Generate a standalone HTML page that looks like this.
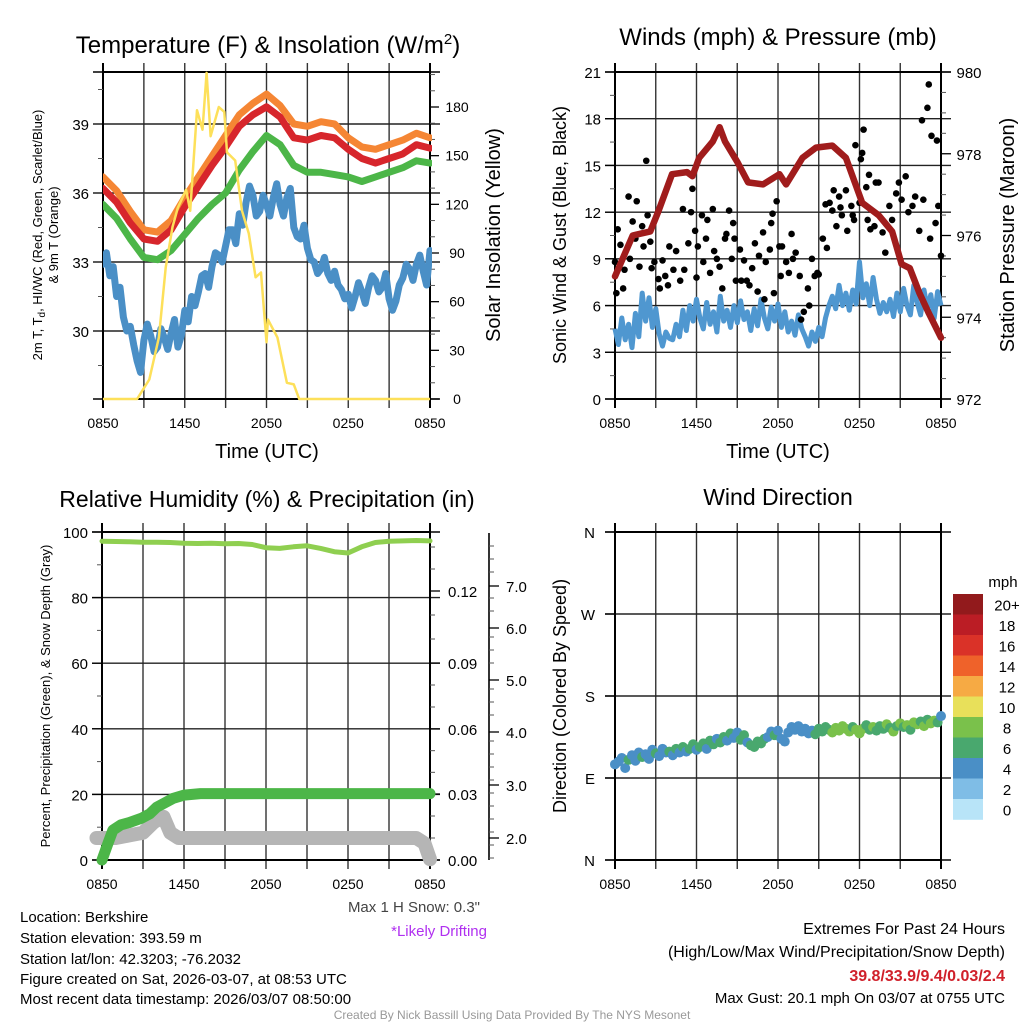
<!DOCTYPE html>
<html><head><meta charset="utf-8"><style>
html,body{margin:0;padding:0;background:#fff;}
svg{display:block;font-family:"Liberation Sans",Arial,sans-serif;}
</style></head><body>
<svg id="c" width="1024" height="1024" viewBox="0 0 1024 1024">
<rect width="1024" height="1024" fill="#fff"/>
<g id="p1"></g>
<g id="p2"></g>
<g id="p3"></g>
<g id="p4"></g>
<text x="268" y="53" font-size="24" text-anchor="middle">Temperature (F) &amp; Insolation (W/m<tspan dy="-9" font-size="15">2</tspan><tspan dy="9">)</tspan></text>
<text x="778" y="45" font-size="24" text-anchor="middle">Winds (mph) &amp; Pressure (mb)</text>
<text x="267" y="507" font-size="23" text-anchor="middle">Relative Humidity (%) &amp; Precipitation (in)</text>
<text x="778" y="505" font-size="23" text-anchor="middle">Wind Direction</text>
<text x="267" y="458" font-size="20" text-anchor="middle">Time (UTC)</text>
<text x="778" y="458" font-size="20" text-anchor="middle">Time (UTC)</text>
<text transform="translate(42,235) rotate(-90)" font-size="13" text-anchor="middle">2m T, T<tspan dy="3" font-size="10">d</tspan><tspan dy="-3">, HI/WC (Red, Green, Scarlet/Blue)</tspan></text>
<text transform="translate(58,235) rotate(-90)" font-size="13" text-anchor="middle">&amp; 9m T (Orange)</text>
<text transform="translate(500,235) rotate(-90)" font-size="20" text-anchor="middle">Solar Insolation (Yellow)</text>
<text transform="translate(566,235) rotate(-90)" font-size="18" text-anchor="middle">Sonic Wind &amp; Gust (Blue, Black)</text>
<text transform="translate(1014,235) rotate(-90)" font-size="20" text-anchor="middle">Station Pressure (Maroon)</text>
<text transform="translate(50,696) rotate(-90)" font-size="13" text-anchor="middle">Percent, Precipitation (Green), &amp; Snow Depth (Gray)</text>
<text transform="translate(566,696) rotate(-90)" font-size="18" text-anchor="middle">Direction (Colored By Speed)</text>
<text x="1003" y="587" font-size="15" text-anchor="middle">mph</text>
<text x="480" y="912" font-size="15" text-anchor="end" fill="#444">Max 1 H Snow: 0.3"</text>
<text x="487" y="936" font-size="15" text-anchor="end" fill="#b030f0">*Likely Drifting</text>
<g font-size="15">
<text x="20" y="922">Location: Berkshire</text>
<text x="20" y="943">Station elevation: 393.59 m</text>
<text x="20" y="964">Station lat/lon: 42.3203; -76.2032</text>
<text x="20" y="984">Figure created on Sat, 2026-03-07, at 08:53 UTC</text>
<text x="20" y="1004">Most recent data timestamp: 2026/03/07 08:50:00</text>
</g>
<g font-size="16" text-anchor="end">
<text x="1005" y="934">Extremes For Past 24 Hours</text>
<text x="1005" y="957">(High/Low/Max Wind/Precipitation/Snow Depth)</text>
<text x="1005" y="981" fill="#d0202a" font-weight="bold">39.8/33.9/9.4/0.03/2.4</text>
<text x="1005" y="1003" font-size="15">Max Gust: 20.1 mph On 03/07 at 0755 UTC</text>
</g>
<text x="512" y="1019" font-size="12" text-anchor="middle" fill="#999">Created By Nick Bassill Using Data Provided By The NYS Mesonet</text>
</svg>
<script>
// ---------- data ----------
const timeLabels = ["0850","1450","2050","0250","0850"];
// Panel 1 (hourly, 0..24 h)
const tempRed = [36.2,35.6,34.7,34.0,33.9,34.4,35.4,36.3,37.2,38.0,38.9,39.4,39.75,39.3,38.4,38.3,38.5,38.4,37.9,37.5,37.3,37.5,37.7,38.1,37.95];
const temp9mOrange = [36.7,36.1,35.2,34.4,34.3,34.8,35.8,36.7,37.6,38.5,39.4,39.9,40.3,39.8,39.0,38.9,39.1,39.0,38.4,38.0,37.9,38.1,38.3,38.6,38.4];
const hiwcGreen = [35.5,34.9,34.0,33.2,33.1,33.5,34.2,34.9,35.5,36.0,37.0,37.8,38.5,38.1,37.2,36.9,36.9,36.8,36.7,36.5,36.7,36.9,37.1,37.4,37.3];
// quarter-hourly
const dewBlue = [32.9,33.4,32.4,32.8,31.5,31.9,30.6,30.0,30.2,29.4,28.7,28.2,29.6,30.3,29.8,29.1,29.3,30.1,29.7,29.2,29.9,30.5,29.3,29.8,30.9,30.4,31.5,31.1,31.7,32.4,32.5,31.9,32.8,33.4,33.3,33.0,33.7,34.4,34.4,33.8,35.1,34.6,35.6,36.3,35.9,35.0,35.2,35.9,35.5,35.0,35.8,36.4,35.5,35.0,35.8,36.2,34.5,34.1,34.0,34.6,33.6,33.1,33.0,32.5,32.7,33.2,32.5,32.2,32.6,32.0,31.8,31.4,31.6,31.0,31.5,32.1,31.7,31.2,31.9,32.4,32.2,31.7,31.9,32.5,31.4,30.9,31.3,32.0,32.3,32.9,32.7,32.2,32.9,33.3,32.6,32.0,33.5];
const insolHours = [0,2.5,3.4,4.1,4.6,5.1,5.5,6.1,6.4,6.9,7.3,7.6,7.9,8.5,8.9,9.1,9.7,10.2,10.7,11.2,11.6,12.0,12.1,12.8,13.5,14.0,14.4,24];
const insolValues = [0,0,12,38,81,106,118,129,116,178,166,201,162,180,177,152,147,116,102,75,78,35,49,38,10,9,0,0];
const tempTicks = [30,33,36,39];
const insolTicks = [0,30,60,90,120,150,180];
// Panel 2 (wind quarter-hourly)
const windBlue = [4.5,3.5,5.2,3.8,4.8,3.3,5.5,4.0,6.8,5.0,6.5,4.6,5.8,4.2,3.4,4.3,3.9,3.8,4.8,4.0,5.7,4.4,6.0,5.0,6.4,5.2,4.5,6.2,4.8,5.6,4.3,6.6,5.0,5.7,4.6,6.0,4.9,6.3,5.1,5.6,4.4,5.8,4.7,6.4,5.2,4.5,5.9,5.0,6.1,4.6,5.6,4.3,5.0,4.1,5.4,4.5,4.0,3.4,4.3,3.7,4.6,4.0,5.2,6.0,6.6,5.8,7.3,6.0,6.8,5.7,7.0,6.1,8.8,6.5,7.4,6.0,7.8,6.4,5.5,6.2,5.6,6.4,5.3,6.8,5.6,7.1,6.0,5.4,7.3,6.2,5.4,7.0,5.8,6.7,5.2,6.9,6.0];
const gustHours = [0.0,0.1,0.2,0.4,0.6,0.7,1.0,1.1,1.3,1.5,1.6,1.8,2.0,2.1,2.3,2.4,2.6,2.7,2.9,3.2,3.3,3.5,3.7,3.9,4.0,4.3,4.5,4.8,5.0,5.1,5.4,5.6,5.7,5.9,6.0,6.1,6.4,6.5,6.7,6.8,7.0,7.2,7.3,7.5,7.7,7.9,8.1,8.2,8.4,8.6,8.7,8.8,8.9,9.2,9.3,9.5,9.7,9.9,10.1,10.3,10.5,10.6,10.9,11.0,11.1,11.4,11.5,11.6,11.7,11.9,12.1,12.2,12.3,12.6,12.8,13.0,13.1,13.3,13.6,13.7,13.9,14.2,14.3,14.5,14.7,14.9,15.0,15.3,15.5,15.6,15.8,16.0,16.1,16.3,16.5,16.6,16.7,17.0,17.1,17.4,17.5,17.6,17.7,18.0,18.1,18.2,18.3,18.5,18.6,18.7,18.8,19.1,19.2,19.4,19.7,19.9,20.2,20.4,20.7,20.9,21.1,21.4,21.6,21.9,22.1,22.4,22.6,22.7,23.0,23.1,23.2,23.3,23.6,23.7,23.8,24.0];
const gustValues = [8.8,6.8,10.9,9.9,7.1,8.3,13.0,9.0,11.4,10.3,12.7,8.5,11.1,9.8,15.3,11.8,10.1,8.4,8.8,7.7,7.1,8.9,7.9,7.3,9.8,8.3,9.5,7.6,12.2,8.3,10.0,12.0,13.5,10.8,7.8,9.8,11.8,8.8,10.3,11.5,8.1,12.2,9.5,9.0,8.5,7.1,10.3,10.6,12.1,9.0,11.3,10.3,7.6,9.6,7.6,8.9,7.6,7.3,8.4,10.0,6.9,9.2,10.7,6.4,8.8,9.6,11.3,11.9,6.8,12.7,9.8,7.9,9.8,8.8,8.1,10.6,9.0,9.4,7.9,5.1,5.6,7.1,6.0,9.0,7.9,8.1,8.0,10.3,12.5,9.7,12.6,12.1,13.4,11.1,13.0,12.3,11.8,13.4,10.8,12.4,11.8,11.5,16.3,12.6,15.4,15.8,17.3,13.6,11.5,14.4,10.9,11.1,13.9,13.9,10.7,9.4,12.4,11.5,13.2,13.9,12.8,14.3,12.0,12.4,13.0,10.8,17.9,12.8,18.7,20.2,10.3,16.9,11.3,16.6,12.4,9.2];
const pressHours = [0,1.3,2.6,3.2,4.2,5.3,5.7,6.2,7.2,7.7,8.1,9.0,9.8,10.9,12.1,12.6,13.8,14.8,16.0,17.0,18.2,19.4,20.4,21.1,21.7,22.4,23.1,24.0];
const pressValues = [975.0,976.0,976.1,976.6,977.5,977.55,977.45,977.9,978.3,978.65,978.3,977.8,977.3,977.25,977.5,977.25,977.9,978.15,978.2,977.9,976.8,976.5,976.1,975.3,975.2,974.6,974.1,973.5];
const windTicks = [0,3,6,9,12,15,18,21];
const pressTicks = [972,974,976,978,980];
// Panel 3
const rhValues = [97.2,97.1,97.0,96.9,96.9,96.8,96.6,96.5,96.6,96.4,96.5,96.2,95.2,95.0,95.5,95.8,95.0,94.0,93.6,95.5,96.8,97.2,97.3,97.4,97.3];
const precipHours = [0,0.4,0.8,1.4,2.0,2.9,3.5,4.0,4.6,5.2,6.0,7.2,24];
const precipValues = [0,0.007,0.0136,0.016,0.017,0.019,0.021,0.024,0.026,0.028,0.0295,0.0302,0.0302];
const snowHours = [-0.4,0,1,2,3,3.8,4.5,5.0,5.6,6.5,8,12,16,20,23,23.6,24];
const snowValues = [2.0,2.0,2.0,2.05,2.1,2.3,2.4,2.1,2.0,2.0,2.0,2.0,2.0,2.0,2.0,1.9,1.6];
const rhTicks = [0,20,40,60,80,100];
const precipTicks = ["0.00","0.03","0.06","0.09","0.12"];
const snowTicks = ["2.0","3.0","4.0","5.0","6.0","7.0"];
// Panel 4 (every 0.25 h)
const dirValues = [105,108,112,101,110,115,109,118,113,116,111,121,117,114,122,118,119,115,122,118,124,119,122,127,121,124,128,122,131,127,133,129,135,131,139,134,140,132,137,129,126,124,130,128,133,135,141,137,142,133,130,140,146,143,147,141,144,139,142,138,144,141,146,143,140,145,142,147,144,141,146,143,139,144,148,143,146,142,147,144,149,145,141,147,150,146,148,143,151,149,152,147,154,150,153,151,158];
const speedValues = [4.5,4.2,5.0,4.8,6.5,4.4,5.1,4.6,6.3,4.7,5.2,4.3,6.4,4.9,5.3,4.5,6.2,4.8,6.5,5.0,6.7,4.6,6.3,6.6,5.2,6.4,6.8,4.7,6.5,6.9,5.1,6.6,6.3,4.9,6.7,5.2,4.8,6.5,6.4,5.3,6.8,6.6,6.9,6.5,6.4,5.0,4.8,6.7,5.4,4.6,5.1,4.7,4.9,5.2,4.8,5.0,4.6,4.9,5.3,6.5,6.7,6.6,6.9,7.5,8.3,8.4,8.6,8.2,8.7,8.5,6.8,8.3,8.6,8.1,6.7,6.9,8.2,6.6,6.8,6.5,8.3,6.7,8.4,6.6,8.2,6.9,8.5,6.6,8.3,8.2,6.8,8.6,6.7,8.4,8.1,6.9,4.8];
const dirTicks = ["N","E","S","W","N"];
const cbLabels = ["20+","18","16","14","12","10","8","6","4","2","0"];
const cbColors = ["#921a1c","#bb1d25","#da3228","#ef622a","#f6aa44","#e8e05a","#7ac14b","#49a86e","#4a8fc6","#7fbde6","#b8e4f8"];

// ---------- helpers ----------
const NS="http://www.w3.org/2000/svg";
function mk(parent,tag,attrs){const e=document.createElementNS(NS,tag);for(const k in attrs)e.setAttribute(k,attrs[k]);parent.appendChild(e);return e;}
function txt(parent,x,y,s,size,anchor){const t=mk(parent,"text",{x:x,y:y,"font-size":size,"text-anchor":anchor||"middle"});t.textContent=s;return t;}
function lin(d0,d1,r0,r1){return v=>r0+(v-d0)*(r1-r0)/(d1-d0);}
function pathFrom(xs,ys){return xs.map((x,i)=>(i?"L":"M")+x.toFixed(1)+","+ys[i].toFixed(1)).join("");}
function evenHours(n){const a=[];for(let i=0;i<n;i++)a.push(i*24/(n-1));return a;}

function frame(g,L,T,R,B,hGrid,nameBase){
  const X=lin(0,24,L,R);
  for(let h=3;h<24;h+=3){
    const l=mk(g,"line",{x1:X(h),x2:X(h),y1:T-9,y2:B+9,stroke:"#333","stroke-width":1.4});
    
    
  }
  hGrid.forEach(y=>{
    const l=mk(g,"line",{x1:L-10,x2:R+10,y1:y,y2:y,stroke:"#222","stroke-width":1.4});
    
    
  });
  const r=mk(g,"rect",{x:L,y:T,width:R-L,height:B-T,fill:"none",stroke:"#000","stroke-width":2});
  
  
  [0,24].forEach(h=>{
    const l=mk(g,"line",{x1:X(h),x2:X(h),y1:T-9,y2:B+9,stroke:"#000","stroke-width":2});
    
    
  });
  mk(g,"line",{x1:L-10,x2:R+10,y1:T,y2:T,stroke:"#000","stroke-width":1.6});
  mk(g,"line",{x1:L-10,x2:R+10,y1:B,y2:B,stroke:"#000","stroke-width":1.6});
  timeLabels.forEach((s,i)=>{
    const t=txt(g,X(i*6),B+29,s,14);
    
    
  });
  return X;
}
function minor(g,x,y,dx){mk(g,"line",{x1:x,x2:x+dx,y1:y,y2:y,stroke:"#555","stroke-width":1});}

// ---------- Panel 1 ----------
(function(){
  const g=document.getElementById("p1");
  const L=103,R=430,T=72,B=399;
  const Y=lin(39,30,124,331);
  const YI=lin(0,180,399,107);
  const X=frame(g,L,T,R,B,tempTicks.map(Y),"temperature");
  tempTicks.forEach(v=>{const t=txt(g,L-14,Y(v)+6,String(v),15,"end");
    
    });
  for(let v=28.5;v<=40.5;v+=3){ if(Y(v)>T&&Y(v)<B) minor(g,L,Y(v),-5);}
  mk(g,"line",{x1:R,x2:R,y1:T,y2:B,stroke:"#000","stroke-width":2});
  insolTicks.forEach(v=>{mk(g,"line",{x1:R,x2:R+9,y1:YI(v),y2:YI(v),stroke:"#000","stroke-width":1.3});
    const t=txt(g,R+27,YI(v)+5,String(v),14,"middle");
    
    });
  for(let v=10;v<=200;v+=10){ if(v%30&&YI(v)>T) minor(g,R,YI(v),5);}
  const clip=mk(g,"clipPath",{id:"c1"});mk(clip,"rect",{x:L,y:T-40,width:R-L+2,height:B-T+40});
  const dg=mk(g,"g",{"clip-path":"url(#c1)"});
  const hh=evenHours(25), hd=evenHours(dewBlue.length);
  const dew=mk(dg,"path",{d:pathFrom(hd.map(X),dewBlue.map(Y)),fill:"none",stroke:"#4a8fc6","stroke-width":7,"stroke-linejoin":"round","stroke-linecap":"round"});
  
  
  const gr=mk(dg,"path",{d:pathFrom(hh.map(X),hiwcGreen.map(Y)),fill:"none",stroke:"#4cb648","stroke-width":7,"stroke-linejoin":"round","stroke-linecap":"round"});
  
  
  const or=mk(dg,"path",{d:pathFrom(hh.map(X),temp9mOrange.map(Y)),fill:"none",stroke:"#f58634","stroke-width":7,"stroke-linejoin":"round","stroke-linecap":"round"});
  
  
  const rd=mk(dg,"path",{d:pathFrom(hh.map(X),tempRed.map(Y)),fill:"none",stroke:"#d7262c","stroke-width":7,"stroke-linejoin":"round","stroke-linecap":"round"});
  
  
  const ins=mk(g,"path",{d:pathFrom(insolHours.map(X),insolValues.map(YI)),fill:"none",stroke:"#fde05a","stroke-width":2.5,"stroke-linejoin":"round"});
  
  
})();

// ---------- Panel 2 ----------
(function(){
  const g=document.getElementById("p2");
  const L=615,R=941,T=72,B=399;
  const Y=lin(0,21,399,72);
  const YP=lin(972,980,399,72);
  const X=frame(g,L,T,R,B,windTicks.filter(v=>v>0&&v<21).map(Y),"winds");
  windTicks.forEach(v=>{mk(g,"line",{x1:L-10,x2:L,y1:Y(v),y2:Y(v),stroke:"#000","stroke-width":1.3});
    const t=txt(g,L-14,Y(v)+6,String(v),15,"end");
    
    });
  for(let v=1.5;v<21;v+=3) minor(g,L,Y(v),-5);
  pressTicks.forEach(v=>{mk(g,"line",{x1:R,x2:R+10,y1:YP(v),y2:YP(v),stroke:"#000","stroke-width":1.3});
    const t=txt(g,R+28,YP(v)+6,String(v),15,"middle");
    
    });
  for(let v=972.5;v<980;v+=0.5){ if(v%2) minor(g,R,YP(v),5);}
  const hw=evenHours(windBlue.length);
  const w=mk(g,"path",{d:pathFrom(hw.map(X),windBlue.map(Y)),fill:"none",stroke:"#4f97d0","stroke-width":5,"stroke-linejoin":"round"});
  
  
  gustValues.forEach((v,i)=>{
    const c=mk(g,"circle",{cx:X(gustHours[i]),cy:Y(v),r:3.3,fill:"#000"});
    
    
  });
  const p=mk(g,"path",{d:pathFrom(pressHours.map(X),pressValues.map(YP)),fill:"none",stroke:"#a01c1c","stroke-width":6.5,"stroke-linejoin":"round","stroke-linecap":"round"});
  
  
})();

// ---------- Panel 3 ----------
(function(){
  const g=document.getElementById("p3");
  const L=102,R=430,T=532,B=860;
  const Y=lin(0,100,860,532);
  const YR=lin(0,0.03,860,794);
  const YS=lin(2,3,838,785);
  const X=frame(g,L,T,R,B,[20,40,60,80].map(Y),"humidity");
  rhTicks.forEach(v=>{mk(g,"line",{x1:L-10,x2:L,y1:Y(v),y2:Y(v),stroke:"#000","stroke-width":1.3});
    const t=txt(g,L-14,Y(v)+6,String(v),15,"end");
    
    });
  for(let v=10;v<100;v+=20) minor(g,L,Y(v),-5);
  const precipPos=[860,794,729,663,591];
  precipTicks.forEach((s,i)=>{mk(g,"line",{x1:R,x2:R+10,y1:precipPos[i],y2:precipPos[i],stroke:"#000","stroke-width":1.3});
    const t=txt(g,R+18,precipPos[i]+6,s,15,"start");
    
    });
  for(let i=0;i<precipPos.length-1;i++){const a=precipPos[i],b=precipPos[i+1];minor(g,R,a+(b-a)/3,5);minor(g,R,a+2*(b-a)/3,5);}
  minor(g,R,569,5);minor(g,R,547,5);
  mk(g,"line",{x1:489,x2:489,y1:533,y2:860,stroke:"#000","stroke-width":1.6});
  const snowPos=[838,785,732,680,628,586];
  snowTicks.forEach((s,i)=>{mk(g,"line",{x1:489,x2:499,y1:snowPos[i],y2:snowPos[i],stroke:"#000","stroke-width":1.3});
    const t=txt(g,506,snowPos[i]+6,s,15,"start");
    
    });
  for(let y=546;y<860;y+=13){ if(!snowPos.some(p=>Math.abs(p-y)<5)) minor(g,489,y,5);}
  const sn=mk(g,"path",{d:pathFrom(snowHours.map(X),snowValues.map(YS)),fill:"none",stroke:"#b5b5b5","stroke-width":14,"stroke-linejoin":"round","stroke-linecap":"round"});
  
  
  const pr=mk(g,"path",{d:pathFrom(precipHours.map(X),precipValues.map(YR)),fill:"none",stroke:"#4cb648","stroke-width":11,"stroke-linejoin":"round","stroke-linecap":"round"});
  
  
  const hr=evenHours(rhValues.length);
  const rh=mk(g,"path",{d:pathFrom(hr.map(X),rhValues.map(Y)),fill:"none",stroke:"#8fcf50","stroke-width":5,"stroke-linejoin":"round","stroke-linecap":"round"});
  
  
})();

// ---------- Panel 4 ----------
(function(){
  const g=document.getElementById("p4");
  const L=615,R=941,T=532,B=860;
  const Y=lin(0,360,860,532);
  const X=frame(g,L,T,R,B,[90,180,270].map(Y),"direction");
  dirTicks.forEach((s,i)=>{mk(g,"line",{x1:L-10,x2:L,y1:Y(i*90),y2:Y(i*90),stroke:"#000","stroke-width":1.3});
    const t=txt(g,L-20,Y(i*90)+6,s,15,"end");
    
    });
  const hd=evenHours(dirValues.length);
  dirValues.forEach((d,i)=>{
    const s=speedValues[i];
    const bin=Math.min(10,Math.floor(s/2));
    const c=mk(g,"circle",{cx:X(hd[i]),cy:Y(d),r:5,fill:cbColors[10-bin]});
    
    
  });
  const bh=20.5;
  cbLabels.forEach((s,i)=>{
    const r=mk(g,"rect",{x:953,y:594+i*bh,width:30,height:bh+0.3,fill:cbColors[i]});
    
    
    const t=txt(g,1007,594+i*bh+bh/2+6,s,15,"middle");
    
    
  });
})();
</script>
</body></html>
